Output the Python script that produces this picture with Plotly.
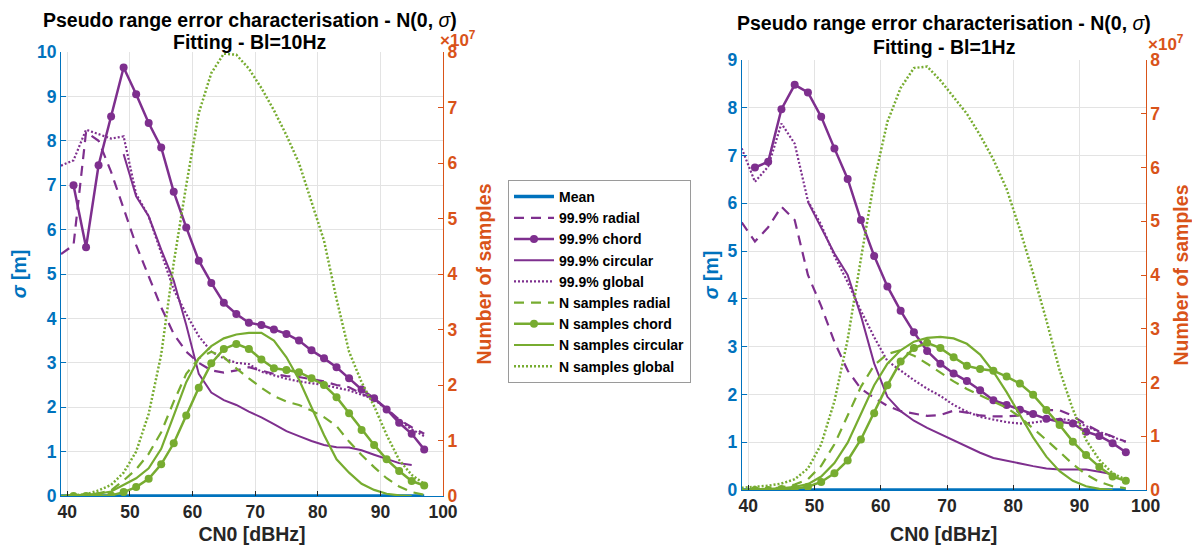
import plotly.graph_objects as go

# CN0 grid (dBHz)
cn0 = [39, 41, 43, 45, 47, 49, 51, 53, 55, 57, 59, 61, 63, 65, 67,
       69, 71, 73, 75, 77, 79, 81, 83, 85, 87, 89, 91, 93, 95, 97]

# ---- Bl = 10 Hz : sigma [m] ----
mean_10 = [0, 0, 0, 0, 0, 0, 0, 0, 0, 0, 0, 0, 0, 0, 0,
           0, 0, 0, 0, 0, 0, 0, 0, 0, 0, 0, 0, 0, 0, 0]
radial_10 = [5.45, 5.65, 8.2, 8.0, 7.3, 6.5, 5.65, 4.95, 4.25, 3.65, 3.25, 3.0, 2.83, 2.78, 2.83,
             2.9, 2.82, 2.75, 2.7, 2.68, 2.63, 2.58, 2.5, 2.45, 2.3, 2.2, 1.97, 1.72, 1.55, 1.4]
chord_10 = [None, 7.0, 5.6, 7.45, 8.55, 9.65, 9.05, 8.4, 7.85, 6.85, 6.05, 5.3, 4.8, 4.35, 4.1,
            3.9, 3.85, 3.75, 3.65, 3.5, 3.28, 3.1, 2.9, 2.65, 2.4, 2.2, 1.95, 1.65, 1.4, 1.05]
circular_10 = [None, None, None, None, None, 7.7, 6.75, 6.3, 5.55, 4.85, 3.85, 2.75, 2.33, 2.16, 2.05,
               1.9, 1.77, 1.62, 1.46, 1.35, 1.24, 1.15, 1.1, 1.09, 1.03, 0.93, 0.83, 0.74, 0.7, None]
global_10 = [7.44, 7.56, 8.25, 8.15, 8.05, 8.1, 6.8, 6.3, 5.5, 4.65, 4.1, 3.6, 3.25, 3.1, 3.0,
             2.97, 2.8, 2.72, 2.64, 2.58, 2.54, 2.5, 2.44, 2.38, 2.28, 2.18, 1.95, 1.7, 1.5, 1.35]

# ---- Bl = 10 Hz : number of samples (x1e7) ----
n_radial_10 = [0.0, 0.01, 0.02, 0.05, 0.1, 0.28, 0.48, 0.76, 1.15, 1.7, 2.2, 2.48, 2.6, 2.5, 2.3,
               2.12, 1.95, 1.8, 1.7, 1.64, 1.54, 1.42, 1.26, 0.98, 0.74, 0.52, 0.32, 0.17, 0.07, 0.02]
n_chord_10 = [None, 0.0, 0.0, 0.0, 0.01, 0.07, 0.16, 0.31, 0.57, 0.95, 1.45, 1.95, 2.39, 2.65, 2.74,
              2.65, 2.46, 2.3, 2.27, 2.23, 2.12, 2.0, 1.78, 1.49, 1.19, 0.92, 0.66, 0.45, 0.27, 0.19]
n_circular_10 = [0.0, 0.01, 0.02, 0.04, 0.08, 0.2, 0.32, 0.5, 0.85, 1.45, 2.05, 2.48, 2.7, 2.84, 2.91,
                 2.94, 2.94, 2.8, 2.5, 2.1, 1.6, 1.1, 0.66, 0.42, 0.22, 0.11, 0.04, 0.01, 0.0, None]
n_global_10 = [0.0, 0.01, 0.03, 0.1, 0.2, 0.42, 0.8, 1.48, 2.55, 4.2, 5.6, 6.9, 7.62, 7.97, 7.95,
               7.7, 7.35, 6.95, 6.5, 6.0, 5.3, 4.6, 3.55, 2.6, 2.05, 1.62, 1.1, 0.65, 0.38, 0.22]

# ---- Bl = 1 Hz : sigma [m] ----
mean_1 = [0, 0, 0, 0, 0, 0, 0, 0, 0, 0, 0, 0, 0, 0, 0,
          0, 0, 0, 0, 0, 0, 0, 0, 0, 0, 0, 0, 0, 0, 0]
radial_1 = [5.6, 5.2, 5.5, 5.93, 5.65, 4.5, 3.85, 3.1, 2.5, 2.12, 1.93, 1.76, 1.65, 1.6, 1.55,
            1.57, 1.66, 1.62, 1.56, 1.54, 1.54, 1.56, 1.62, 1.67, 1.67, 1.55, 1.37, 1.22, 1.12, 1.01]
chord_1 = [None, 6.75, 6.87, 7.97, 8.48, 8.32, 7.81, 7.15, 6.51, 5.65, 4.9, 4.26, 3.75, 3.3, 2.91,
           2.64, 2.44, 2.28, 2.09, 1.88, 1.78, 1.68, 1.59, 1.49, 1.43, 1.39, 1.22, 1.13, 0.98, 0.79]
circular_1 = [None, None, None, None, None, 6.03, 5.5, 4.95, 4.5, 3.65, 2.65, 1.95, 1.65, 1.45, 1.3,
              1.17, 1.03, 0.91, 0.78, 0.67, 0.61, 0.56, 0.5, 0.45, 0.43, 0.43, 0.43, 0.38, 0.33, None]
global_1 = [7.15, 6.45, 6.77, 7.67, 7.25, 6.05, 5.55, 4.9, 4.35, 3.75, 3.2, 2.7, 2.5, 2.3, 2.12,
            1.97, 1.78, 1.64, 1.53, 1.47, 1.42, 1.39, 1.41, 1.45, 1.49, 1.45, 1.33, 1.22, 1.11, 1.01]

# ---- Bl = 1 Hz : number of samples (x1e7) ----
n_radial_1 = [0.0, 0.01, 0.02, 0.05, 0.1, 0.2, 0.45, 0.85, 1.38, 1.92, 2.32, 2.53, 2.6, 2.5, 2.35,
              2.18, 2.02, 1.88, 1.76, 1.65, 1.53, 1.36, 1.15, 0.93, 0.71, 0.48, 0.29, 0.15, 0.07, 0.03]
n_chord_1 = [None, 0.0, 0.0, 0.02, 0.03, 0.06, 0.15, 0.31, 0.55, 0.94, 1.43, 1.95, 2.39, 2.64, 2.74,
             2.64, 2.47, 2.31, 2.25, 2.22, 2.11, 1.98, 1.77, 1.49, 1.21, 0.9, 0.65, 0.43, 0.25, 0.17]
n_circular_1 = [0.0, 0.01, 0.02, 0.03, 0.06, 0.11, 0.25, 0.5, 0.88, 1.4, 1.95, 2.35, 2.6, 2.76, 2.83,
                2.85, 2.82, 2.72, 2.52, 2.2, 1.82, 1.4, 0.98, 0.62, 0.35, 0.17, 0.07, 0.02, 0.0, None]
n_global_1 = [0.04, 0.06, 0.08, 0.12, 0.2, 0.4, 0.85, 1.65, 2.8, 4.3, 5.75, 6.85, 7.48, 7.85, 7.88,
              7.62, 7.3, 7.0, 6.6, 6.15, 5.6, 4.85, 4.03, 3.16, 2.23, 1.5, 0.93, 0.56, 0.31, 0.19]

x_ticks = [40, 50, 60, 70, 80, 90, 100]

BLUE = '#0072BD'
ORANGE = '#D95319'
PURPLE = '#7E2F8E'
GREEN = '#77AC30'
DARK = '#262626'
GRID = '#E3E3E3'
FONT = 'Liberation Sans, Arial, sans-serif'

# the page body has an 8px margin, so the figure is a bit smaller than the window
PAD = 8
W, H = 1200 - 2 * PAD, 553 - 2 * PAD


def px(x):
    return (x - PAD) / W


def py(y):
    return 1 - (y - PAD) / H


fig = go.Figure()


def add_panel(xa, ya_left, ya_right, sig, nsamp, show):
    mean, radial, chord, circular, glob = sig
    n_radial, n_chord, n_circular, n_global = nsamp
    common = dict(x=cn0, mode='lines', showlegend=show, hoverinfo='skip')
    # sigma (left axis)
    fig.add_trace(go.Scatter(y=mean, name='Mean', xaxis=xa, yaxis=ya_left,
                             line=dict(color=BLUE, width=3.5), **common))
    fig.add_trace(go.Scatter(y=radial, name='99.9% radial', xaxis=xa, yaxis=ya_left,
                             line=dict(color=PURPLE, width=2.2, dash='10px,7px'), **common))
    fig.add_trace(go.Scatter(y=chord, name='99.9% chord', xaxis=xa, yaxis=ya_left,
                             line=dict(color=PURPLE, width=2.5),
                             marker=dict(color=PURPLE, size=8),
                             **{**common, 'mode': 'lines+markers'}))
    fig.add_trace(go.Scatter(y=circular, name='99.9% circular', xaxis=xa, yaxis=ya_left,
                             line=dict(color=PURPLE, width=2), **common))
    fig.add_trace(go.Scatter(y=glob, name='99.9% global', xaxis=xa, yaxis=ya_left,
                             line=dict(color=PURPLE, width=2.2, dash='2px,2px'), **common))
    # number of samples (right axis)
    fig.add_trace(go.Scatter(y=n_radial, name='N samples radial', xaxis=xa, yaxis=ya_right,
                             line=dict(color=GREEN, width=2.2, dash='10px,7px'), **common))
    fig.add_trace(go.Scatter(y=n_chord, name='N samples chord', xaxis=xa, yaxis=ya_right,
                             line=dict(color=GREEN, width=2.5),
                             marker=dict(color=GREEN, size=8),
                             **{**common, 'mode': 'lines+markers'}))
    fig.add_trace(go.Scatter(y=n_circular, name='N samples circular', xaxis=xa, yaxis=ya_right,
                             line=dict(color=GREEN, width=2.2), **common))
    fig.add_trace(go.Scatter(y=n_global, name='N samples global', xaxis=xa, yaxis=ya_right,
                             line=dict(color=GREEN, width=2.5, dash='2px,2px'), **common))


add_panel('x', 'y', 'y2',
          (mean_10, radial_10, chord_10, circular_10, global_10),
          (n_radial_10, n_chord_10, n_circular_10, n_global_10), True)
add_panel('x2', 'y3', 'y4',
          (mean_1, radial_1, chord_1, circular_1, global_1),
          (n_radial_1, n_chord_1, n_circular_1, n_global_1), False)

tick_font = dict(family=FONT, size=17.5, weight='bold')
label_size = 19.5


def x_axis(**kw):
    return dict(range=[39, 100], tickvals=x_ticks, showgrid=True, gridcolor=GRID, gridwidth=1,
                ticks='inside', ticklen=5, tickcolor=DARK, showline=True, linecolor=BLUE, linewidth=1,
                tickfont=dict(color=DARK, **tick_font), zeroline=False, automargin=False,
                title=dict(text='CN0 [dBHz]',
                           font=dict(color=DARK, family=FONT, size=label_size, weight='bold'),
                           standoff=13), **kw)


def y_left(standoff, **kw):
    return dict(showgrid=True, gridcolor=GRID, gridwidth=1, ticks='inside', ticklen=5,
                tickcolor=BLUE, showline=True, linecolor=BLUE, linewidth=1, zeroline=False,
                tickfont=dict(color=BLUE, **tick_font), dtick=1, automargin=False,
                title=dict(text='<i>σ</i> [m]',
                           font=dict(color=BLUE, family=FONT, size=label_size, weight='bold'),
                           standoff=standoff), **kw)


def y_right(**kw):
    return dict(range=[0, 8], dtick=1, showgrid=False, ticks='inside', ticklen=5,
                tickcolor=ORANGE, showline=True, linecolor=ORANGE, linewidth=1, zeroline=False,
                tickfont=dict(color=ORANGE, **tick_font), side='right', automargin=False,
                title=dict(text='Number of samples',
                           font=dict(color=ORANGE, family=FONT, size=label_size, weight='bold'),
                           standoff=20), **kw)


fig.update_layout(
    width=W, height=H,
    margin=dict(l=0, r=0, t=0, b=0, autoexpand=False),
    paper_bgcolor='white', plot_bgcolor='white',
    font=dict(family=FONT, color=DARK),
    xaxis=x_axis(domain=[px(61), px(443)], anchor='y'),
    yaxis=y_left(12, domain=[py(496), py(52)], anchor='x', range=[0, 10]),
    yaxis2=y_right(overlaying='y', anchor='x'),
    xaxis2=x_axis(domain=[px(741.7), px(1145.7)], anchor='y3'),
    yaxis3=y_left(3, domain=[py(490), py(60)], anchor='x2', range=[0, 9]),
    yaxis4=y_right(overlaying='y3', anchor='x2'),
    legend=dict(x=px(508), y=py(180), xanchor='left', yanchor='top',
                bgcolor='white', bordercolor='#9A9A9A', borderwidth=1,
                font=dict(family=FONT, size=14, color='#000000', weight='bold'),
                tracegroupgap=0, itemwidth=40),
    showlegend=True,
)

title_font = dict(family=FONT, size=19.5, color='#000000')
titles = [
    (250, 20, 42, 'Fitting - Bl=10Hz'),
    (944, 23, 47, 'Fitting - Bl=1Hz'),
]
for xc, y1, y2, sub in titles:
    fig.add_annotation(x=px(xc), y=py(y1), xref='paper', yref='paper', showarrow=False,
                       text='<b>Pseudo range error characterisation - N(0, </b><i>σ</i><b>)</b>',
                       font=title_font, xanchor='center', yanchor='middle')
    fig.add_annotation(x=px(xc), y=py(y2), xref='paper', yref='paper', showarrow=False,
                       text='<b>' + sub + '</b>', font=title_font, xanchor='center', yanchor='middle')

# x10^7 exponent labels of the right axes
for xe, ye in [(438, 39), (1146, 43)]:
    fig.add_annotation(x=px(xe), y=py(ye), xref='paper', yref='paper', showarrow=False,
                       text='<b>×10<sup>7</sup></b>', xanchor='left', yanchor='middle',
                       font=dict(family=FONT, size=17, color=ORANGE))

fig.write_html("out.html")
